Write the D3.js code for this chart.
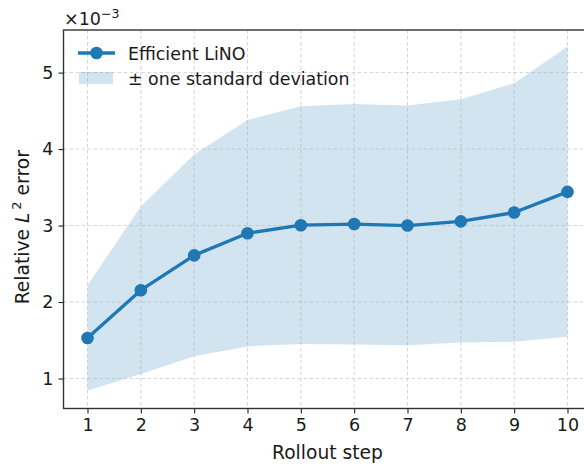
<!DOCTYPE html>
<html>
<head>
<meta charset="utf-8">
<script src="https://cdn.jsdelivr.net/npm/d3@7"></script>
<style>
  html, body { margin: 0; padding: 0; background: #fff; }
  svg { display: block; font-family: "DejaVu Sans", sans-serif; }
</style>
</head>
<body>
<svg id="chart" width="584" height="464"></svg>
<script>
// rollout steps and errors (in units of 1e-3)
const steps = [1, 2, 3, 4, 5, 6, 7, 8, 9, 10];
const meanErr = [1.53, 2.155, 2.61, 2.90, 3.005, 3.02, 3.0, 3.055, 3.17, 3.44];
const upperErr = [2.22, 3.25, 3.93, 4.38, 4.56, 4.59, 4.57, 4.65, 4.86, 5.34];
const lowerErr = [0.843, 1.06, 1.29, 1.42, 1.45, 1.445, 1.435, 1.47, 1.48, 1.545];
const yTicks = [1, 2, 3, 4, 5];

const color = "#1f77b4";
const svg = d3.select("#chart");

const pLeft = 63.5, pRight = 591.5, pTop = 30, pBottom = 408.5;

const x = d3.scaleLinear().domain([0.55, 10.45]).range([pLeft, pRight]);
const y = d3.scaleLinear().domain([0.608, 5.557]).range([pBottom, pTop]);

const rows = steps.map((s, i) => ({ s, m: meanErr[i], lo: lowerErr[i], hi: upperErr[i] }));

// band
svg.append("path")
  .datum(rows)
  .attr("fill", color)
  .attr("fill-opacity", 0.2)
  .attr("d", d3.area().x(d => x(d.s)).y0(d => y(d.lo)).y1(d => y(d.hi)));

// grid
const grid = svg.append("g")
  .attr("stroke", "#b0b0b0")
  .attr("stroke-opacity", 0.6)
  .attr("stroke-width", 0.9)
  .attr("stroke-dasharray", "3.5,2.5");
grid.selectAll("line.gx").data(steps).join("line")
  .attr("x1", d => x(d)).attr("x2", d => x(d))
  .attr("y1", pTop).attr("y2", pBottom);
grid.selectAll("line.gy").data(yTicks).join("line")
  .attr("x1", pLeft).attr("x2", pRight)
  .attr("y1", d => y(d)).attr("y2", d => y(d));

// mean line + markers
svg.append("path")
  .datum(rows)
  .attr("fill", "none")
  .attr("stroke", color)
  .attr("stroke-width", 3.3)
  .attr("stroke-linejoin", "round")
  .attr("d", d3.line().x(d => x(d.s)).y(d => y(d.m)));
svg.append("g").selectAll("circle").data(rows).join("circle")
  .attr("cx", d => x(d.s)).attr("cy", d => y(d.m))
  .attr("r", 6.3).attr("fill", color);

// axes
const xAxis = svg.append("g")
  .attr("transform", `translate(0,${pBottom})`)
  .call(d3.axisBottom(x).tickValues(steps).tickSize(5).tickPadding(5).tickFormat(d3.format("d")));
const yAxis = svg.append("g")
  .attr("transform", `translate(${pLeft},0)`)
  .call(d3.axisLeft(y).tickValues(yTicks).tickSize(5).tickPadding(5).tickFormat(d3.format("d")));
[xAxis, yAxis].forEach(a => {
  a.select(".domain").remove();
  a.selectAll("line").attr("stroke", "#222").attr("stroke-width", 1.1);
  a.selectAll("text").attr("font-size", 17.5).attr("fill", "#1a1a1a")
    .attr("font-family", "DejaVu Sans, sans-serif");
});

// spines
svg.append("rect")
  .attr("x", pLeft).attr("y", pTop)
  .attr("width", pRight - pLeft).attr("height", pBottom - pTop)
  .attr("fill", "none").attr("stroke", "#333").attr("stroke-width", 1.4);

// axis labels
svg.append("text")
  .attr("x", x(5.5)).attr("y", 459)
  .attr("text-anchor", "middle").attr("font-size", 18.7).attr("fill", "#1a1a1a")
  .text("Rollout step");

const yl = svg.append("text")
  .attr("transform", `translate(29,${(pTop + pBottom) / 2 + 8}) rotate(-90)`)
  .attr("text-anchor", "middle").attr("font-size", 18.7).attr("fill", "#1a1a1a");
yl.append("tspan").text("Relative ");
yl.append("tspan").attr("font-style", "italic").text("L");
yl.append("tspan").attr("font-size", 13).attr("dy", -8).attr("dx", 3).text("2");
yl.append("tspan").attr("dy", 8).text(" error");

// offset text
const off = svg.append("text")
  .attr("x", 64).attr("y", 25).attr("font-size", 17.5).attr("fill", "#1a1a1a");
off.append("tspan").text("×10");
off.append("tspan").attr("font-size", 12.5).attr("dy", -7).text("−3");

// legend
const lg = svg.append("g");
lg.append("line")
  .attr("x1", 78).attr("x2", 115).attr("y1", 53).attr("y2", 53)
  .attr("stroke", color).attr("stroke-width", 3.3);
lg.append("circle").attr("cx", 96.5).attr("cy", 53).attr("r", 6.3).attr("fill", color);
lg.append("text").attr("x", 128).attr("y", 59.5).attr("font-size", 17.4).attr("fill", "#1a1a1a")
  .text("Efficient LiNO");
lg.append("rect").attr("x", 79).attr("y", 72).attr("width", 34).attr("height", 12)
  .attr("fill", color).attr("fill-opacity", 0.2);
lg.append("text").attr("x", 128).attr("y", 84.5).attr("font-size", 17.4).attr("fill", "#1a1a1a")
  .text("± one standard deviation");
</script>
</body>
</html>
